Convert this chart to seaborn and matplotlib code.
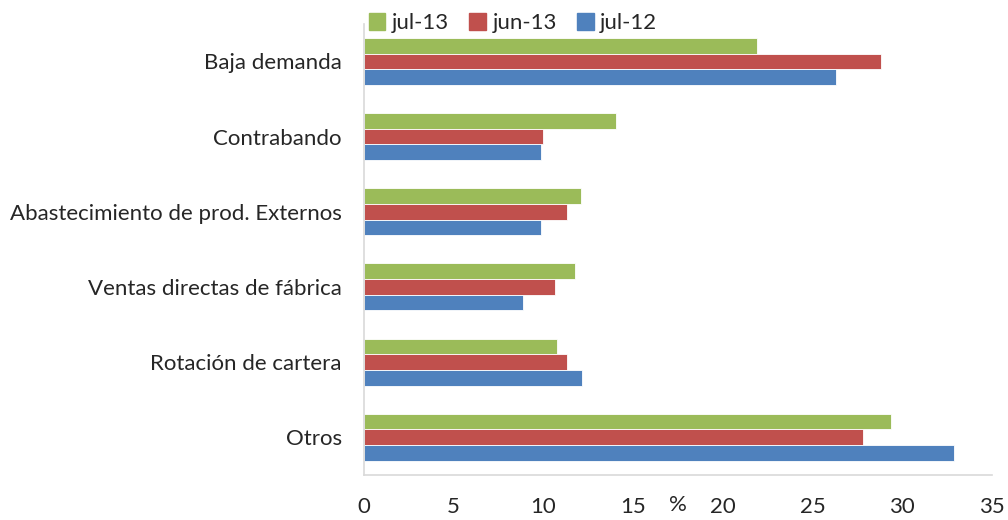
import matplotlib
matplotlib.use("Agg")
import matplotlib.pyplot as plt
import pandas as pd
import seaborn as sns

sns.set_style("white")
plt.rcParams["font.family"] = ["Lato", "DejaVu Sans"]

categorias = ["Baja demanda", "Contrabando", "Abastecimiento de prod. Externos",
              "Ventas directas de fábrica", "Rotación de cartera", "Otros"]
series = ["jul-13", "jun-13", "jul-12"]
jul13 = [21.9, 14.05, 12.1, 11.75, 10.75, 29.4]
jun13 = [28.8, 10.0, 11.3, 10.65, 11.3, 27.8]
jul12 = [26.3, 9.85, 9.85, 8.85, 12.15, 32.9]

colores = {"jul-13": "#9BBB59", "jun-13": "#C0504D", "jul-12": "#4F81BD"}

df = pd.DataFrame({
    "categoria": categorias * 3,
    "serie": [s for s in series for _ in categorias],
    "valor": jul13 + jun13 + jul12,
})

fontsize = 16

fig = plt.figure(figsize=(10.08, 5.2), dpi=100)
ax = fig.add_axes([0.361, 0.087, 0.623, 0.867])

sns.barplot(data=df, y="categoria", x="valor", hue="serie", hue_order=series,
            order=categorias, palette=colores, saturation=1, orient="h",
            width=0.625, edgecolor="white", linewidth=0.6, ax=ax, legend=False)

ax.set_xlim(0, 35)
ax.set_xticks(range(0, 36, 5))
ax.tick_params(axis="x", length=0, pad=16, labelsize=fontsize)
ax.tick_params(axis="y", length=0, pad=16, labelsize=fontsize)
ax.set_ylabel(None)
ax.set_xlabel("%", fontsize=fontsize)
ax.xaxis.set_label_coords(0.5, -0.044)
ax.xaxis.label.set_verticalalignment("top")

for s in ["top", "right"]:
    ax.spines[s].set_visible(False)
for s in ["left", "bottom"]:
    ax.spines[s].set_color("#D9D9D9")
    ax.spines[s].set_linewidth(1.2)

handles = [plt.Rectangle((0, 0), 1, 1, color=colores[s]) for s in series]
fig.legend(handles, series, loc="upper center", bbox_to_anchor=(0.509, 1.013),
           ncol=3, frameon=False, fontsize=fontsize, handlelength=0.75,
           handleheight=0.75, handletextpad=0.3, columnspacing=0.9)

fig.savefig("out.png", dpi=100)
